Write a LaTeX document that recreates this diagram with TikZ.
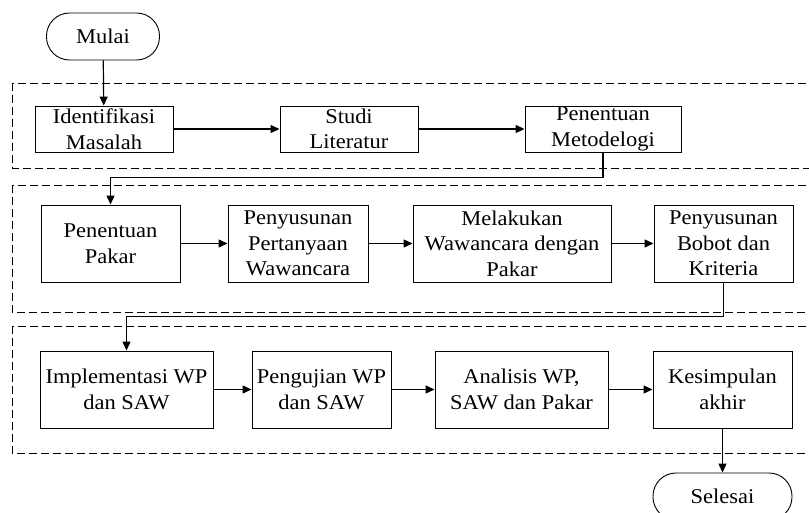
\documentclass[tikz,border=0pt]{standalone}
\usepackage{fontspec}
\setmainfont[FakeStretch=1.07]{Liberation Serif}
\usetikzlibrary{arrows.meta}

\tikzset{
    proses/.style={draw, line width=0.9pt, align=center, inner sep=0pt,
        minimum height=#1, font=\fontsize{21}{25.5}\selectfont},
    proses/.default=77pt,
    terminal/.style={draw, line width=0.9pt, rounded corners=23pt, inner sep=0pt,
        minimum width=113pt, minimum height=47pt, font=\fontsize{21}{25.5}\selectfont},
    tahap/.style={draw, dash pattern=on 8pt off 4pt, line width=0.9pt}
}

\begin{document}
\begin{tikzpicture}[x=1pt, y=-1pt, >={Triangle[length=9pt, width=8pt]}, line width=1.2pt]
        \useasboundingbox (0,0) rectangle (809,513);

        % Draw the stage frames
        \draw[tahap] (12,83) rectangle (840,168);
        \draw[tahap] (12,185) rectangle (840,312);
        \draw[tahap] (12,326) rectangle (840,453);

        % Draw the start and end
        \node[terminal] (mulai) at (103,36.5) {Mulai};
        \node[terminal, minimum width=139pt] (selesai) at (722.5,496.5) {Selesai};

        % Draw the first stage
        \node[proses=46pt, minimum width=138pt] (identifikasi) at (104,129) {Identifikasi\\Masalah};
        \node[proses=46pt, minimum width=138pt] (studi) at (349,129) {Studi\\Literatur};
        \node[proses=46pt, minimum width=156pt] (metodelogi) at (603,129) {Penentuan\\Metodelogi};

        % Draw the second stage
        \node[proses, minimum width=139pt] (pakar) at (110.5,243.5) {Penentuan\\Pakar};
        \node[proses, minimum width=140pt] (pertanyaan) at (298,243.5) {Penyusunan\\Pertanyaan\\Wawancara};
        \node[proses, minimum width=198pt] (wawancara) at (512,243.5) {Melakukan\\Wawancara dengan\\Pakar};
        \node[proses, minimum width=139pt] (bobot) at (723.5,243.5) {Penyusunan\\Bobot dan\\Kriteria};

        % Draw the third stage
        \node[proses, minimum width=173pt] (implementasi) at (126.5,389.5) {Implementasi WP\\dan SAW};
        \node[proses, minimum width=139pt] (pengujian) at (321.5,389.5) {Pengujian WP\\dan SAW};
        \node[proses, minimum width=173pt] (analisis) at (521.5,389.5) {Analisis WP,\\SAW dan Pakar};
        \node[proses, minimum width=139pt] (kesimpulan) at (722.5,389.5) {Kesimpulan\\akhir};

        % Draw the flow
        \draw[->] (mulai) -- (identifikasi);
        \draw[->] (identifikasi) -- (studi);
        \draw[->] (studi) -- (metodelogi);
        \draw[->] (metodelogi.south) -- ++(0,25) -| (pakar.north);
        \draw[->] (pakar) -- (pertanyaan);
        \draw[->] (pertanyaan) -- (wawancara);
        \draw[->] (wawancara) -- (bobot);
        \draw[->] (bobot.south) -- ++(0,34) -| (implementasi.north);
        \draw[->] (implementasi) -- (pengujian);
        \draw[->] (pengujian) -- (analisis);
        \draw[->] (analisis) -- (kesimpulan);
        \draw[->] (kesimpulan) -- (selesai);
    \end{tikzpicture}
\end{document}
